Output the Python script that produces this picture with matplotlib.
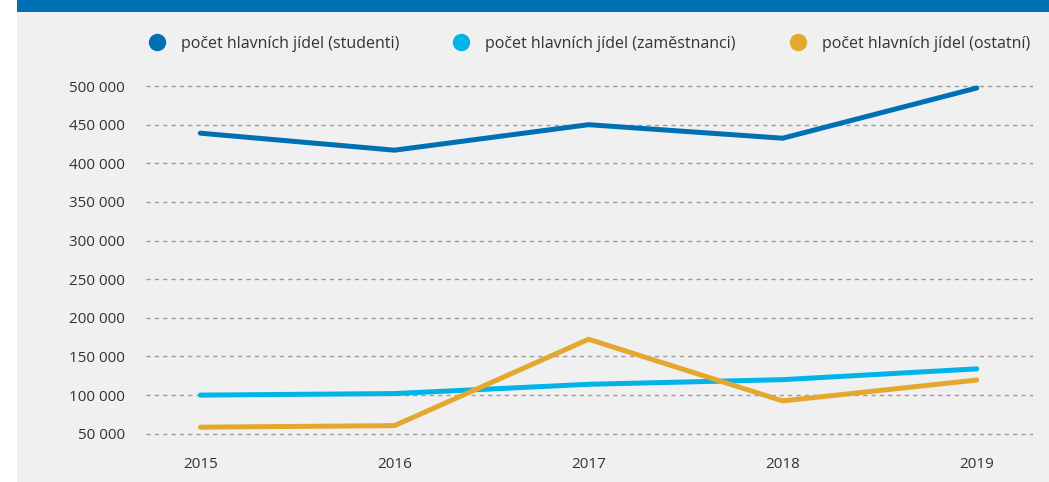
import matplotlib
matplotlib.use("Agg")
import matplotlib.pyplot as plt
from matplotlib.patches import Rectangle
from matplotlib.ticker import FuncFormatter

plt.rcParams['font.family'] = ['Open Sans', 'DejaVu Sans']

years = [2015, 2016, 2017, 2018, 2019]
studenti = [439000, 417000, 450000, 432500, 497500]
zamestnanci = [100000, 102000, 114000, 120000, 134000]
ostatni = [58500, 60500, 172300, 92500, 119500]

labels = ['počet hlavních jídel (studenti)',
          'počet hlavních jídel (zaměstnanci)',
          'počet hlavních jídel (ostatní)']
colors = ['#0070b4', '#00b4e8', '#e5a82e']
y_ticks = [50000, 100000, 150000, 200000, 250000, 300000, 350000, 400000, 450000, 500000]

fig = plt.figure(figsize=(10.49, 4.82), dpi=100, facecolor='#f0f0f0')

# white left margin + blue header strip
fig.patches.append(Rectangle((0, 0), 17 / 1049, 1, transform=fig.transFigure,
                             facecolor='white', edgecolor='none', zorder=-2))
fig.patches.append(Rectangle((17 / 1049, 1 - 12 / 482), 1, 12 / 482, transform=fig.transFigure,
                             facecolor='#0070b4', edgecolor='none', zorder=-1))

ax = fig.add_axes([0.1392, 0.0921, 0.8456, 0.7454])
ax.set_facecolor('none')

for vals, lab, c in zip([studenti, zamestnanci, ostatni], labels, colors):
    ax.plot(years, vals, color=c, lw=3.6, solid_capstyle='round',
            solid_joinstyle='round', label=lab, zorder=3)

ax.set_xlim(2014.72, 2019.29)
ax.set_ylim(45000, 510000)
ax.set_xticks(years)
ax.set_yticks(y_ticks)
ax.yaxis.set_major_formatter(FuncFormatter(lambda v, p: f'{int(v):,}'.replace(',', ' ')))

for y in y_ticks:
    ax.axhline(y, color='#9a9a9a', lw=1, dashes=(3, 3), zorder=1)

for s in ax.spines.values():
    s.set_visible(False)
ax.tick_params(axis='both', length=0, labelsize=11, labelcolor='#333333')
ax.tick_params(axis='x', pad=14)
ax.tick_params(axis='y', pad=15)

handles = [plt.Line2D([], [], marker='o', ls='none', markersize=11.5, color=c) for c in colors]
fig.legend(handles, labels, loc='center left', bbox_to_anchor=(0.1286, 1 - 44 / 482),
           ncol=3, frameon=False, fontsize=11.5, handlelength=1.0,
           handletextpad=1.0, columnspacing=3.37, labelcolor='#333333')

fig.savefig('out.png', dpi=100, facecolor=fig.get_facecolor())
